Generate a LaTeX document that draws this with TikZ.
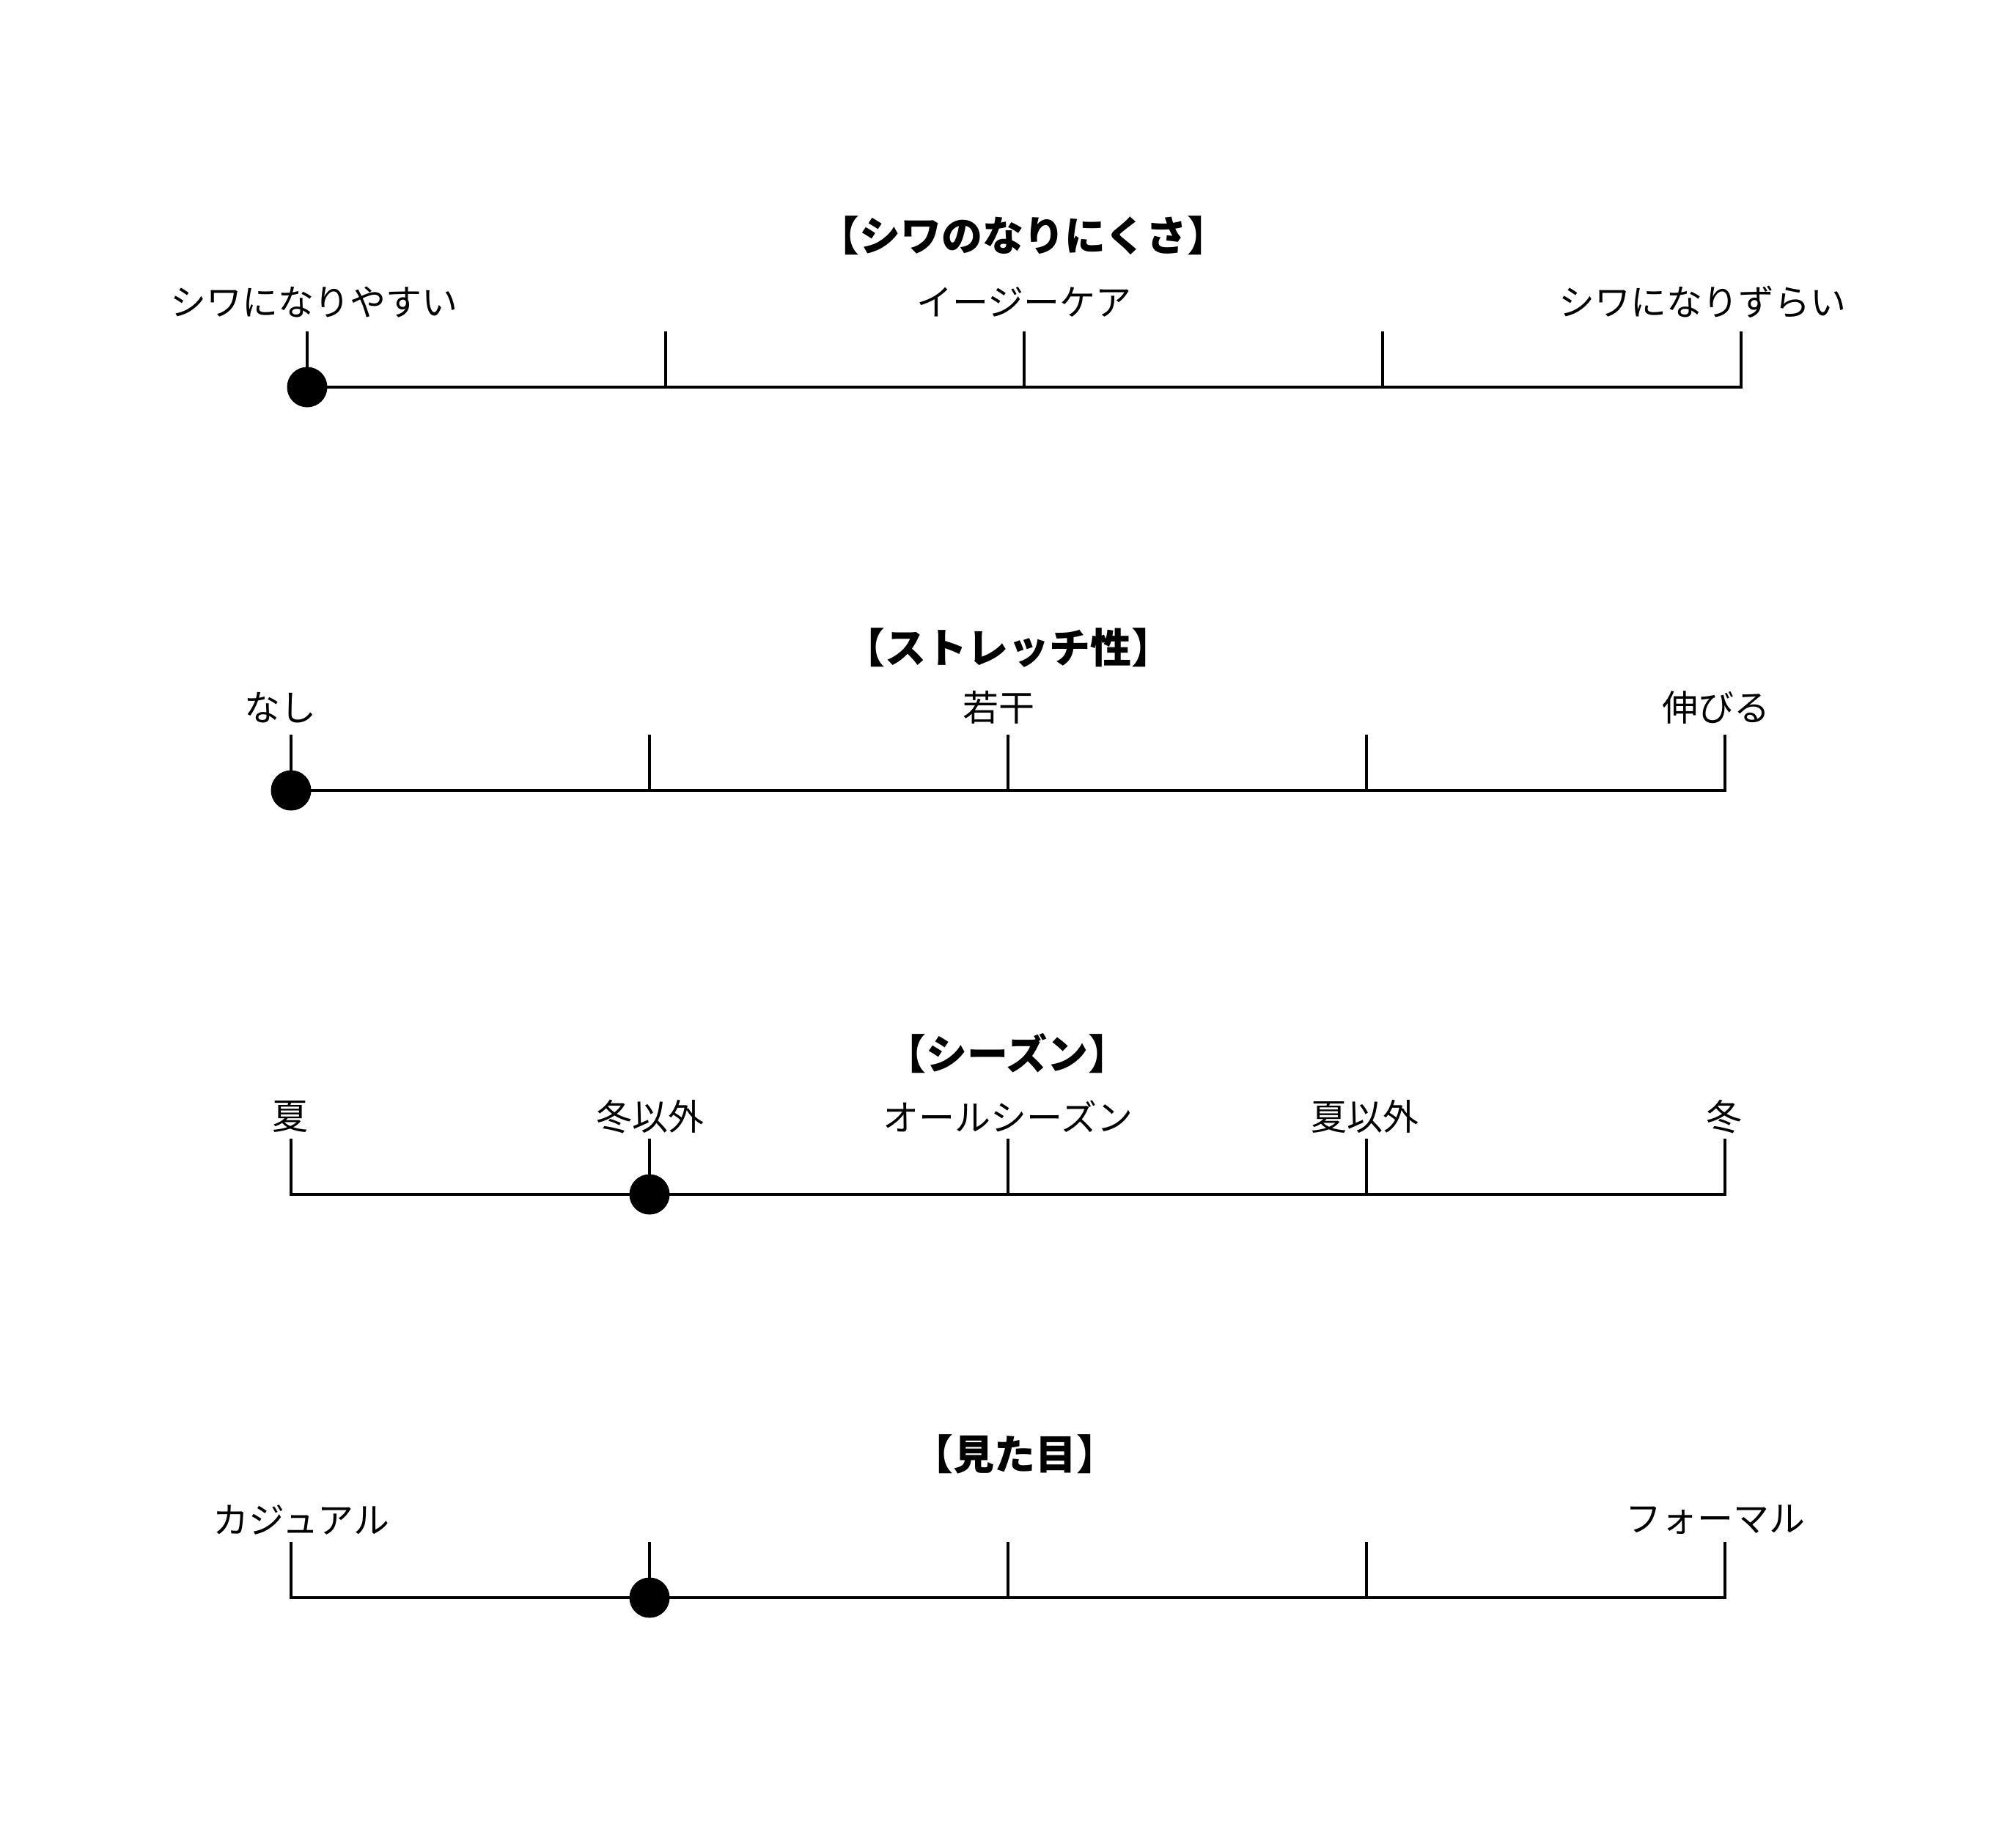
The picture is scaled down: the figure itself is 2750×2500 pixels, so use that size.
\documentclass[tikz,border=0pt]{standalone}
\usepackage{fontspec}
\setmainfont{Noto Sans CJK JP}
\begin{document}
\begin{tikzpicture}[x=1pt,y=-1pt,
  ttl/.style={font=\fontsize{56}{60}\selectfont\bfseries, inner sep=0pt, anchor=center},
  lbl/.style={font=\fontsize{49}{54}\selectfont, inner sep=0pt, anchor=center},
  axis/.style={line width=4.5pt, line join=miter, line cap=butt},
  tickln/.style={line width=4.5pt},
  dot/.style={circle, fill=black, inner sep=0pt, minimum size=55pt}]
\useasboundingbox[fill=white] (0,0) rectangle (2750,2500);

% ---------- Row 1 ----------
\node[ttl] (t1) at (1396,321) {【シワのなりにくさ】};
\node[lbl] (l1a) at (428,412) {シワになりやすい};
\node[lbl] (l1c) at (1397,412) {イージーケア};
\node[lbl] (l1e) at (2322,412) {シワになりずらい};
\foreach \i/\x in {0/419,1/908,2/1397,3/1886,4/2375}{
  \coordinate (a1\i) at (\x,528);
  \coordinate (b1\i) at (\x,452);
}
\draw[axis] (b10) -- (a10) -- (a14) -- (b14);
\foreach \i in {1,2,3}{\draw[tickln] (a1\i) -- (b1\i);}
\node[dot] (d1) at (a10) {};

% ---------- Row 2 ----------
\node[ttl] (t2) at (1375,883) {【ストレッチ性】};
\node[lbl] (l2a) at (382,965) {なし};
\node[lbl] (l2c) at (1362,965) {若干};
\node[lbl] (l2e) at (2341,965) {伸びる};
\foreach \i/\x in {0/397,1/886,2/1375,3/1864,4/2353}{
  \coordinate (a2\i) at (\x,1078);
  \coordinate (b2\i) at (\x,1002);
}
\draw[axis] (b20) -- (a20) -- (a24) -- (b24);
\foreach \i in {1,2,3}{\draw[tickln] (a2\i) -- (b2\i);}
\node[dot] (d2) at (a20) {};

% ---------- Row 3 ----------
\node[ttl] (t3) at (1374,1437) {【シーズン】};
\node[lbl] (l3a) at (396,1523) {夏};
\node[lbl] (l3b) at (887,1523) {冬以外};
\node[lbl] (l3c) at (1375,1523) {オールシーズン};
\node[lbl] (l3d) at (1862,1523) {夏以外};
\node[lbl] (l3e) at (2352,1523) {冬};
\foreach \i/\x in {0/397,1/886,2/1375,3/1864,4/2353}{
  \coordinate (a3\i) at (\x,1629);
  \coordinate (b3\i) at (\x,1553);
}
\draw[axis] (b30) -- (a30) -- (a34) -- (b34);
\foreach \i in {1,2,3}{\draw[tickln] (a3\i) -- (b3\i);}
\node[dot] (d3) at (a31) {};

% ---------- Row 4 ----------
\node[ttl] (t4) at (1384,1983) {【見た目】};
\node[lbl] (l4a) at (411,2073) {カジュアル};
\node[lbl] (l4e) at (2340,2073) {フォーマル};
\foreach \i/\x in {0/397,1/886,2/1375,3/1864,4/2353}{
  \coordinate (a4\i) at (\x,2179);
  \coordinate (b4\i) at (\x,2103);
}
\draw[axis] (b40) -- (a40) -- (a44) -- (b44);
\foreach \i in {1,2,3}{\draw[tickln] (a4\i) -- (b4\i);}
\node[dot] (d4) at (a41) {};
\end{tikzpicture}
\end{document}
